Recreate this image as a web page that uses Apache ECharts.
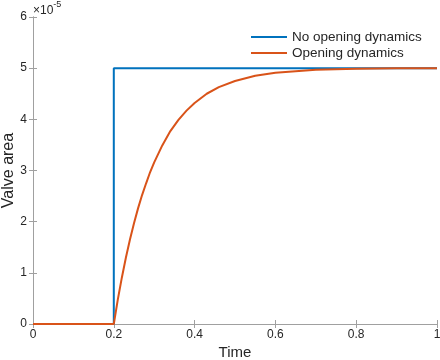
<!DOCTYPE html>
<html>
<head>
<meta charset="utf-8">
<script src="https://cdn.jsdelivr.net/npm/echarts@6/dist/echarts.min.js"></script>
<style>html,body{margin:0;padding:0;background:#fff}#c{width:440px;height:360px}</style>
</head>
<body>
<div id="c"></div>
<script>
// Values in units of 1e-5 (axis shows ×10^-5)
var seriesNames = ['No opening dynamics', 'Opening dynamics'];
var stepTime = [0, 0.2, 0.2, 1];
var stepArea = [0, 0, 5, 5];
var dynTime = [0, 0.2, 0.21, 0.22, 0.23, 0.24, 0.25, 0.26, 0.27, 0.28, 0.29, 0.30, 0.32, 0.34, 0.36, 0.38, 0.40, 0.43, 0.46, 0.50, 0.55, 0.60, 0.65, 0.70, 0.80, 0.90, 1.00];
var dynArea = [0, 0, 0.48, 0.91, 1.30, 1.65, 1.97, 2.26, 2.52, 2.75, 2.97, 3.16, 3.49, 3.77, 3.99, 4.17, 4.32, 4.50, 4.63, 4.75, 4.85, 4.91, 4.94, 4.97, 4.99, 5.00, 5.00];
var xTicks = ['0', '0.2', '0.4', '0.6', '0.8', '1'];
var yTicks = ['0', '1', '2', '3', '4', '5', '6'];
var xLabel = 'Time';
var yLabel = 'Valve area';

function pairs(xs, ys) { return xs.map(function (x, i) { return [x, ys[i]]; }); }

var font = 'Liberation Sans, Arial, Helvetica, sans-serif';
var axisGray = '#a0a0a0';
var textCol = '#262626';

var chart = echarts.init(document.getElementById('c'), null, { renderer: 'canvas' });
chart.setOption({
  animation: false,
  backgroundColor: '#fff',
  grid: { left: 33, right: 3, top: 17, bottom: 36, containLabel: false, outerBoundsMode: 'none' },
  legend: {
    orient: 'vertical',
    left: 251, top: 29, padding: 0,
    icon: 'rect',
    itemWidth: 36, itemHeight: 2, itemGap: 0,
    textStyle: { fontFamily: font, fontSize: 13.5, lineHeight: 16, color: textCol },
    data: seriesNames
  },
  xAxis: [{
    type: 'value', min: 0, max: 1, interval: 0.2,
    name: xLabel, nameLocation: 'middle', nameGap: 21, nameMoveOverlap: false,
    nameTextStyle: { fontFamily: font, fontSize: 15, color: textCol },
    axisLine: { show: true, lineStyle: { color: axisGray, width: 1 } },
    axisTick: { show: true, inside: true, length: 4, lineStyle: { color: axisGray } },
    axisLabel: { fontFamily: font, fontSize: 12, color: textCol, margin: 5,
      formatter: function (v) { return xTicks[Math.round(v / 0.2)]; } },
    splitLine: { show: false }
  }, {
    type: 'value', min: 0, max: 1, interval: 0.2, position: 'top',
    axisLine: { show: true, lineStyle: { color: axisGray, width: 1 } },
    axisTick: { show: true, inside: true, length: 4, lineStyle: { color: axisGray } },
    axisLabel: { show: false }, splitLine: { show: false }
  }],
  yAxis: [{
    type: 'value', min: 0, max: 6, interval: 1,
    name: yLabel, nameLocation: 'middle', nameGap: 16, nameMoveOverlap: false,
    nameTextStyle: { fontFamily: font, fontSize: 16, color: textCol },
    axisLine: { show: true, lineStyle: { color: axisGray, width: 1 } },
    axisTick: { show: true, inside: true, length: 4, lineStyle: { color: axisGray } },
    axisLabel: { fontFamily: font, fontSize: 12, color: textCol, margin: 6,
      formatter: function (v) { return yTicks[Math.round(v)]; } },
    splitLine: { show: false }
  }, {
    type: 'value', min: 0, max: 6, interval: 1, position: 'right',
    axisLine: { show: true, lineStyle: { color: axisGray, width: 1 } },
    axisTick: { show: true, inside: true, length: 4, lineStyle: { color: axisGray } },
    axisLabel: { show: false }, splitLine: { show: false }
  }],
  graphic: [{
    type: 'text', left: 33, top: 0,
    style: {
      text: '{a|×10}{b|-5}',
      fontFamily: font,
      rich: {
        a: { fontSize: 12, fontFamily: font, fill: textCol, verticalAlign: 'bottom', padding: [5, 0, 0, 0] },
        b: { fontSize: 9, fontFamily: font, fill: textCol, verticalAlign: 'top' }
      }
    }
  }],
  series: [{
    name: seriesNames[0], type: 'line', symbol: 'none', z: 2,
    data: pairs(stepTime, stepArea),
    lineStyle: { color: '#0072BD', width: 2 }, itemStyle: { color: '#0072BD' }
  }, {
    name: seriesNames[1], type: 'line', symbol: 'none', smooth: false, z: 3,
    data: pairs(dynTime, dynArea),
    lineStyle: { color: '#D95319', width: 2 }, itemStyle: { color: '#D95319' }
  }]
});
</script>
</body>
</html>
